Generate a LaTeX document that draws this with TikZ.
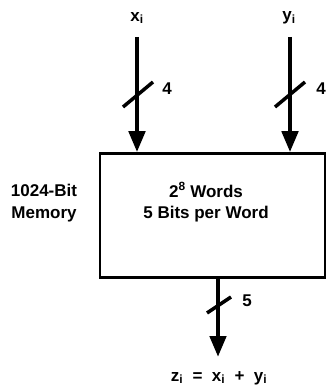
\documentclass[tikz,border=0pt]{standalone}
\usepackage{fontspec}
\setmainfont{Liberation Sans}
\usetikzlibrary{arrows.meta,calc}
\tikzset{
  lbl/.style={font=\bfseries\fontsize{17}{19}\selectfont, inner sep=0pt},
  bus/.style={line width=4.5pt, -{Triangle[length=21pt,width=16pt]}},
  tick/.style={line width=3.5pt},
  membox/.style={draw, line width=2.5pt, minimum width=225pt, minimum height=124pt, inner sep=0pt}
}
\begin{document}
\begin{tikzpicture}[x=1pt,y=-1pt]
\useasboundingbox (0,0) rectangle (328,387);
\node[membox] (mem) at (212.5,215.5) {};
\node[lbl, align=center] (t1) at (206,190) {2\textsuperscript{8} Words};
\node[lbl, align=center] (t2) at (206,214) {5 Bits per Word};
\node[lbl] (m1) at (44,190) {1024-Bit};
\node[lbl] (m2) at (44,214) {Memory};
% input x
\node[lbl] (xl) at (137,18) {x\textsubscript{i}};
\coordinate (xa) at (137,37);
\draw[bus] (xa) -- (xa |- mem.north);
\coordinate (xs) at (138,94.5);
\draw[tick] ($(xs)+(-15,12.5)$) -- ($(xs)+(15,-12.5)$);
\node[lbl] (x4) at (167,89) {4};
% input y
\node[lbl] (yl) at (289,18) {y\textsubscript{i}};
\coordinate (ya) at (290,37);
\draw[bus] (ya) -- (ya |- mem.north);
\coordinate (ys) at (290,94.5);
\draw[tick] ($(ys)+(-15,12.5)$) -- ($(ys)+(15,-12.5)$);
\node[lbl] (y4) at (321,89) {4};
% output
\coordinate (zo) at (218,357);
\draw[bus] (zo |- mem.south) -- (zo);
\coordinate (zs) at (219,305);
\draw[tick] ($(zs)+(-12,8)$) -- ($(zs)+(12,-8)$);
\node[lbl] (z5) at (247,301) {5};
\node[lbl] (zl) at (219,378) {z\textsubscript{i}\ \ =\ \ x\textsubscript{i}\ \ +\ \ y\textsubscript{i}};
\end{tikzpicture}
\end{document}
